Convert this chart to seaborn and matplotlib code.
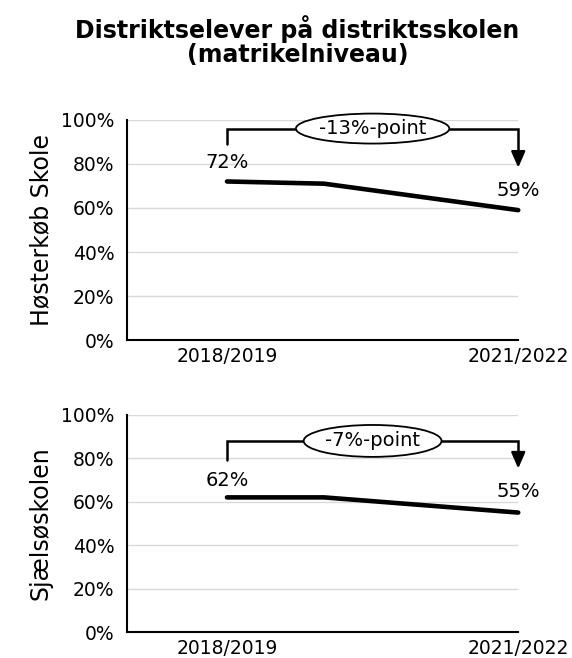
import numpy as np
import pandas as pd
import seaborn as sns
import matplotlib.pyplot as plt
from matplotlib.patches import Ellipse

# data
years = ["2018/2019", "2019/2020", "2020/2021", "2021/2022"]
schools = ["Høsterkøb Skole", "Sjælsøskolen"]
hosterkob = [72, 71, 65, 59]
sjalso = [62, 62, 58.5, 55]
start_labels = ["72%", "62%"]
end_labels = ["59%", "55%"]
change_labels = ["-13%-point", "-7%-point"]
ytick_labels = ["0%", "20%", "40%", "60%", "80%", "100%"]

sns.set_theme(style="white")
plt.rcParams['font.family'] = ['DejaVu Sans']
for key in ['text.color', 'axes.labelcolor', 'xtick.color', 'ytick.color']:
    plt.rcParams[key] = 'black'

fig = plt.figure(figsize=(5.72, 6.58), dpi=100)
ax_top = fig.add_axes([0.222, 0.483, 0.684, 0.335])
ax_bot = fig.add_axes([0.222, 0.0395, 0.684, 0.33])
axes = [ax_top, ax_bot]

fig.text(0.52, 0.938, "Distriktselever på distriktsskolen\n(matrikelniveau)",
         ha='center', va='center', fontsize=17, fontweight='bold', linespacing=1.02)

series = [hosterkob, sjalso]
# bracket settings: (bracket height, left foot, arrow tip)
brackets = [(96, 89, 77), (88, 79, 74)]
ellipse_size = [(1.58, 13.6), (1.42, 14.7)]
start_y = [80.5, 70]
end_y = [68, 64.5]

for i, ax in enumerate(axes):
    df = pd.DataFrame({'x': np.arange(len(years)), 'value': series[i]})
    sns.lineplot(data=df, x='x', y='value', ax=ax, color='black', linewidth=3.3,
                 clip_on=False)
    ax.set_xlim(-1.03, 3.0)
    ax.set_ylim(0, 100)
    ax.set_yticks(np.arange(0, 101, 20))
    ax.set_yticklabels(ytick_labels, fontsize=13.5)
    ax.set_xticks([0, 3])
    ax.set_xticklabels([years[0], years[-1]], fontsize=13.5)
    ax.tick_params(axis='x', length=0, pad=5)
    ax.tick_params(axis='y', length=5, width=1.3, direction='out', pad=4)
    ax.yaxis.grid(True, color='#d9d9d9', linewidth=1)
    ax.set_axisbelow(True)
    for side in ['top', 'right']:
        ax.spines[side].set_visible(False)
    for side in ['left', 'bottom']:
        ax.spines[side].set_color('black')
        ax.spines[side].set_linewidth(1.5)
    ax.set_xlabel('')
    ax.set_ylabel(schools[i], fontsize=17, labelpad=6)

    # value labels
    ax.text(0, start_y[i], start_labels[i], ha='center', va='center', fontsize=14)
    ax.text(3, end_y[i], end_labels[i], ha='center', va='center', fontsize=14)

    # change bracket
    top, foot, tip = brackets[i]
    ax.plot([0, 0, 3, 3], [foot, top, top, tip + 5], color='black', linewidth=1.8,
            clip_on=False, solid_joinstyle='miter')
    ax.annotate('', xy=(3, tip), xytext=(3, tip + 6),
                arrowprops=dict(arrowstyle='-|>,head_width=0.35,head_length=0.8',
                                color='black', lw=1.8), annotation_clip=False)
    w, h = ellipse_size[i]
    ell = Ellipse((1.5, top), width=w, height=h, facecolor='white',
                  edgecolor='black', linewidth=1.3, zorder=5, clip_on=False)
    ax.add_patch(ell)
    ax.text(1.5, top, change_labels[i], ha='center', va='center', fontsize=14,
            zorder=6)

fig.savefig('out.png', dpi=100)
